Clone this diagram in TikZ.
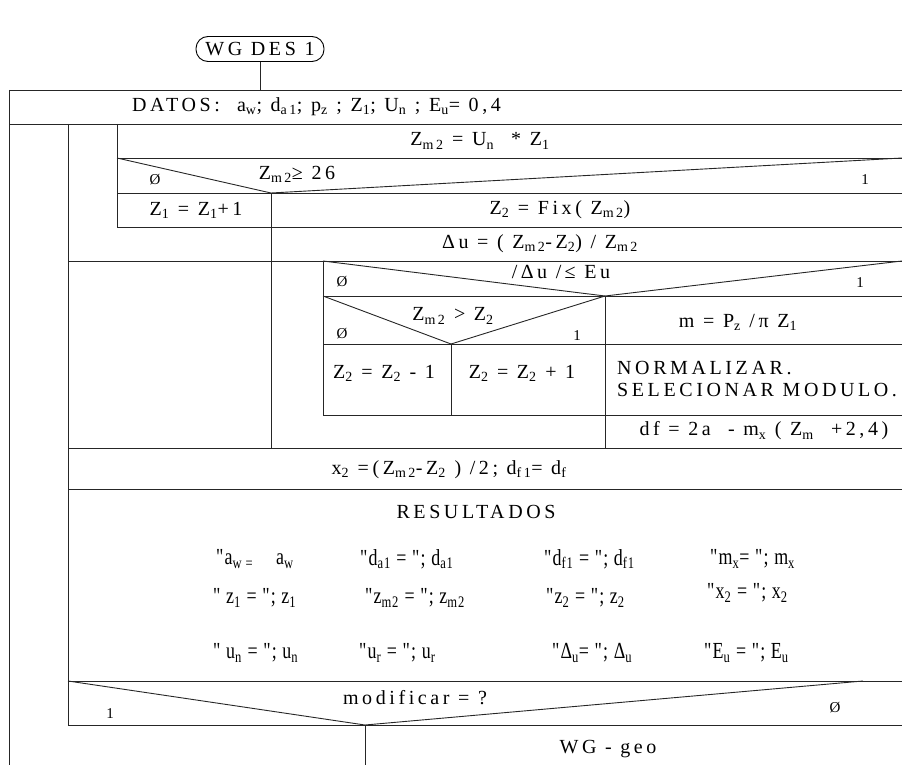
\documentclass[tikz,border=0pt]{standalone}
\usepackage{fontspec}
\setmainfont{Liberation Serif}
\newfontfamily\spacedfont{Liberation Serif}[LetterSpace=18]
\newfontfamily\narrowfont{Liberation Serif}[FakeStretch=0.78, LetterSpace=5]
\newcommand{\lo}[1]{\textsubscript{#1}}
\usetikzlibrary{positioning}

\begin{document}
\begin{tikzpicture}[x=1pt,y=-1pt]
    \tikzset{
        rule/.style={line width=0.9pt, draw=black!85},
        txt/.style={font=\fontsize{20}{22}\selectfont\spacedfont, inner sep=0pt},
        branch/.style={font=\fontsize{15}{17}\selectfont, inner sep=0pt},
        res/.style={font=\fontsize{23}{26}\selectfont\narrowfont, inner sep=0pt, anchor=west},
        startbox/.style={draw, line width=0.9pt, rounded corners=12pt, minimum width=128pt,
                         minimum height=25pt, inner sep=0pt,
                         font=\fontsize{20}{22}\selectfont\spacedfont}
    }
    \useasboundingbox (0,0) rectangle (902,765);
    \node[startbox] (start) at (260,49) {WG DES 1};
    \coordinate (entry) at (260,90);
    \draw[rule] (start) -- (entry);

    % frame and rows
    \draw[rule] (9,90) -- (902,90);
    \draw[rule] (9,90) -- (9,765);
    \draw[rule] (9,124) -- (902,124);
    \draw[rule] (68,124) -- (68,725);
    \draw[rule] (117,124) -- (117,227);
    \draw[rule] (117,158) -- (902,158);
    \draw[rule] (117,158) -- (271,193) -- (902,158);
    \draw[rule] (117,193) -- (902,193);
    \draw[rule] (271,193) -- (271,448);
    \draw[rule] (117,227) -- (902,227);
    \draw[rule] (68,261) -- (902,261);
    \draw[rule] (323,261) -- (323,415);
    \draw[rule] (323,261) -- (605,296) -- (902,261);
    \draw[rule] (323,296) -- (902,296);
    \draw[rule] (605,296) -- (605,448);
    \draw[rule] (323,296) -- (451,344) -- (605,296);
    \draw[rule] (323,344) -- (902,344);
    \draw[rule] (451,344) -- (451,415);
    \draw[rule] (323,415) -- (902,415);
    \draw[rule] (68,448) -- (902,448);
    \draw[rule] (68,489) -- (902,489);
    \draw[rule] (68,681) -- (902,681);
    \draw[rule] (68,681) -- (365,725) -- (863,681);
    \draw[rule] (68,725) -- (902,725);
    \draw[rule] (365,725) -- (365,765);

    % texts
    \node[txt, anchor=west] (datos) at (132,107)
        {DATOS:\ \ a\lo{w}; d\lo{a1}; p\lo{z}\ ; Z\lo{1}; U\lo{n}\ ; E\lo{u}= 0,4};
    \node[txt] (zm2) at (480,141) {Z\lo{m2} = U\lo{n}\ \ * Z\lo{1}};
    \node[branch] (no1) at (155,180) {Ø};
    \node[txt] (test1) at (297,174) {Z\lo{m2}≥ 26};
    \node[branch] (yes1) at (865,180) {1};
    \node[txt] (incz1) at (196,210) {Z\lo{1} = Z\lo{1}+1};
    \node[txt] (fixz2) at (560,210) {Z\lo{2} = Fix( Z\lo{m2})};
    \node[txt] (du) at (540,244) {Δu = ( Z\lo{m2}-Z\lo{2}) / Z\lo{m2}};
    \node[branch] (no2) at (342,282) {Ø};
    \node[txt] (test2) at (561,272) {/\,Δu /\,≤ Eu};
    \node[branch] (yes2) at (860,283) {1};
    \node[txt] (test3) at (453,316) {Z\lo{m2} > Z\lo{2}};
    \node[branch] (no3) at (342,334) {Ø};
    \node[branch] (yes3) at (577,336) {1};
    \node[txt] (modm) at (738,322) {m = P\lo{z} /π Z\lo{1}};
    \node[txt] (decz2) at (384,373) {Z\lo{2} = Z\lo{2} - 1};
    \node[txt] (incz2) at (522,373) {Z\lo{2} = Z\lo{2} + 1};
    \node[txt, anchor=west, align=left] (norm) at (617,379)
        {NORMALIZAR.\\SELECIONAR MODULO.};
    \node[txt] (df) at (764,431) {df = 2a\ \ - m\lo{x}\ ( Z\lo{m}\ \ +2,4)};
    \node[txt] (x2) at (449,470) {x\lo{2} =(Z\lo{m2}-Z\lo{2} ) /2; d\lo{f1}= d\lo{f}};
    \node[txt] (results) at (476,512) {RESULTADOS};

    \node[res] (ra1) at (216,559) {"a\lo{w =}\quad a\lo{w}};
    \node[res] (ra2) at (360,559) {"d\lo{a1} = "; d\lo{a1}};
    \node[res] (ra3) at (544,559) {"d\lo{f1} = "; d\lo{f1}};
    \node[res] (ra4) at (710,559) {"m\lo{x}= "; m\lo{x}};
    \node[res] (rb1) at (213,598) {" z\lo{1} = "; z\lo{1}};
    \node[res] (rb2) at (365,598) {"z\lo{m2} = "; z\lo{m2}};
    \node[res] (rb3) at (546,598) {"z\lo{2} = "; z\lo{2}};
    \node[res] (rb4) at (707,593) {"x\lo{2} = "; x\lo{2}};
    \node[res] (rc1) at (213,653) {" u\lo{n} = "; u\lo{n}};
    \node[res] (rc2) at (359,653) {"u\lo{r} = "; u\lo{r}};
    \node[res] (rc3) at (552,653) {"Δ\lo{u}= "; Δ\lo{u}};
    \node[res] (rc4) at (704,653) {"E\lo{u} = "; E\lo{u}};

    \node[txt] (ask) at (415,698) {modificar = ?};
    \node[branch] (yes4) at (110,714) {1};
    \node[branch] (no4) at (835,708) {Ø};
    \node[txt] (geo) at (608,749) {WG - geo};
\end{tikzpicture}
\end{document}
